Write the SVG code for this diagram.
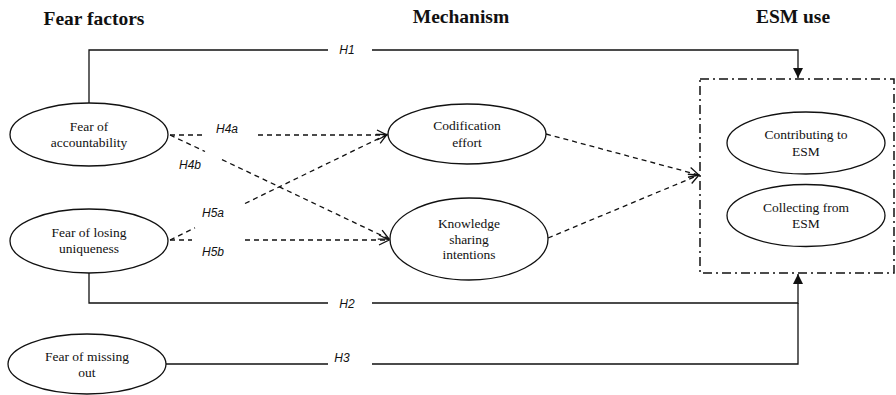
<svg xmlns="http://www.w3.org/2000/svg" width="896" height="395" viewBox="0 0 896 395">
<style>
.title{font-family:"Liberation Serif","Times New Roman",serif;font-weight:bold;font-size:19.5px;fill:#111;text-anchor:middle}
.nl{font-family:"Liberation Serif","Times New Roman",serif;font-size:13.5px;fill:#111;text-anchor:middle}
.hl{font-family:"Liberation Sans",Arial,sans-serif;font-style:italic;font-size:12px;fill:#111;text-anchor:middle}
ellipse{fill:#fff;stroke:#111;stroke-width:1.3}
.solid{fill:none;stroke:#111;stroke-width:1.3}
.dash{fill:none;stroke:#111;stroke-width:1.3;stroke-dasharray:5 4}
</style>
<defs>
<marker id="fill" viewBox="0 0 10 10" refX="10" refY="5" markerWidth="10" markerHeight="10" markerUnits="userSpaceOnUse" orient="auto">
<path d="M0,0 L10,5 L0,10 Z" fill="#111"/>
</marker>
<marker id="open" viewBox="0 0 12 12" refX="11" refY="6" markerWidth="12" markerHeight="12" markerUnits="userSpaceOnUse" orient="auto">
<path d="M1,1 L11,6 L1,11" fill="none" stroke="#111" stroke-width="1.3"/>
</marker>
</defs>
<rect width="896" height="395" fill="#fff"/>
<text class="title" x="94" y="24.5">Fear factors</text>
<text class="title" x="461" y="23">Mechanism</text>
<text class="title" x="793" y="22.5">ESM use</text>

<g id="connectors">
<path class="solid" d="M89,103 V50 H328"/>
<path class="solid" d="M372,50 H798 V78" marker-end="url(#fill)"/>
<path class="solid" d="M89,273 V303 H328"/>
<path class="solid" d="M372,303 H798 V274" marker-end="url(#fill)"/>
<path class="solid" d="M166,364 H328"/>
<path class="solid" d="M372,364 H798 V303"/>
<!-- H4a -->
<path class="dash" d="M170,135 H205"/>
<path class="dash" d="M258,135 H387" marker-end="url(#open)"/>
<!-- H4b -->
<path class="dash" d="M170,135 L205,151.5"/>
<path class="dash" d="M222,159.6 L389,239" marker-end="url(#open)"/>
<!-- H5a -->
<path class="dash" d="M170,240 L195,227.8"/>
<path class="dash" d="M245,203.5 L387,134.5" marker-end="url(#open)"/>
<!-- H5b -->
<path class="dash" d="M170,240 H192"/>
<path class="dash" d="M245,240 H389" marker-end="url(#open)"/>
<!-- to ESM -->
<path class="dash" d="M546,134 L699,175" marker-end="url(#open)"/>
<path class="dash" d="M548,238 L699,175" marker-end="url(#open)"/>
<rect x="700" y="79" width="194" height="194" fill="none" stroke="#111" stroke-width="1.5" stroke-dasharray="9 4 2 4"/>
<text class="hl" x="347" y="54">H1</text>
<text class="hl" x="347" y="308">H2</text>
<text class="hl" x="342" y="362">H3</text>
<text class="hl" x="227" y="133">H4a</text>
<text class="hl" x="190" y="169">H4b</text>
<text class="hl" x="213" y="217">H5a</text>
<text class="hl" x="213" y="256">H5b</text>
</g>

<g id="fear-accountability">
<ellipse cx="89" cy="134.5" rx="79" ry="31.5"/>
<text class="nl" x="89" y="131">Fear of</text>
<text class="nl" x="89" y="147">accountability</text>
</g>
<g id="fear-uniqueness">
<ellipse cx="89" cy="241" rx="79" ry="32"/>
<text class="nl" x="89" y="237">Fear of losing</text>
<text class="nl" x="89" y="253">uniqueness</text>
</g>
<g id="fear-missing">
<ellipse cx="87" cy="364" rx="79" ry="30"/>
<text class="nl" x="87" y="361">Fear of missing</text>
<text class="nl" x="87" y="377">out</text>
</g>
<g id="codification">
<ellipse cx="467" cy="134" rx="79" ry="30"/>
<text class="nl" x="467" y="130">Codification</text>
<text class="nl" x="467" y="147">effort</text>
</g>
<g id="knowledge">
<ellipse cx="469" cy="239" rx="79" ry="41"/>
<text class="nl" x="469" y="228">Knowledge</text>
<text class="nl" x="469" y="244">sharing</text>
<text class="nl" x="469" y="259">intentions</text>
</g>
<g id="contributing">
<ellipse cx="806" cy="143" rx="79" ry="31"/>
<text class="nl" x="806" y="139">Contributing to</text>
<text class="nl" x="806" y="156">ESM</text>
</g>
<g id="collecting">
<ellipse cx="806" cy="215.5" rx="79" ry="31"/>
<text class="nl" x="806" y="212">Collecting from</text>
<text class="nl" x="806" y="228">ESM</text>
</g>
</svg>
